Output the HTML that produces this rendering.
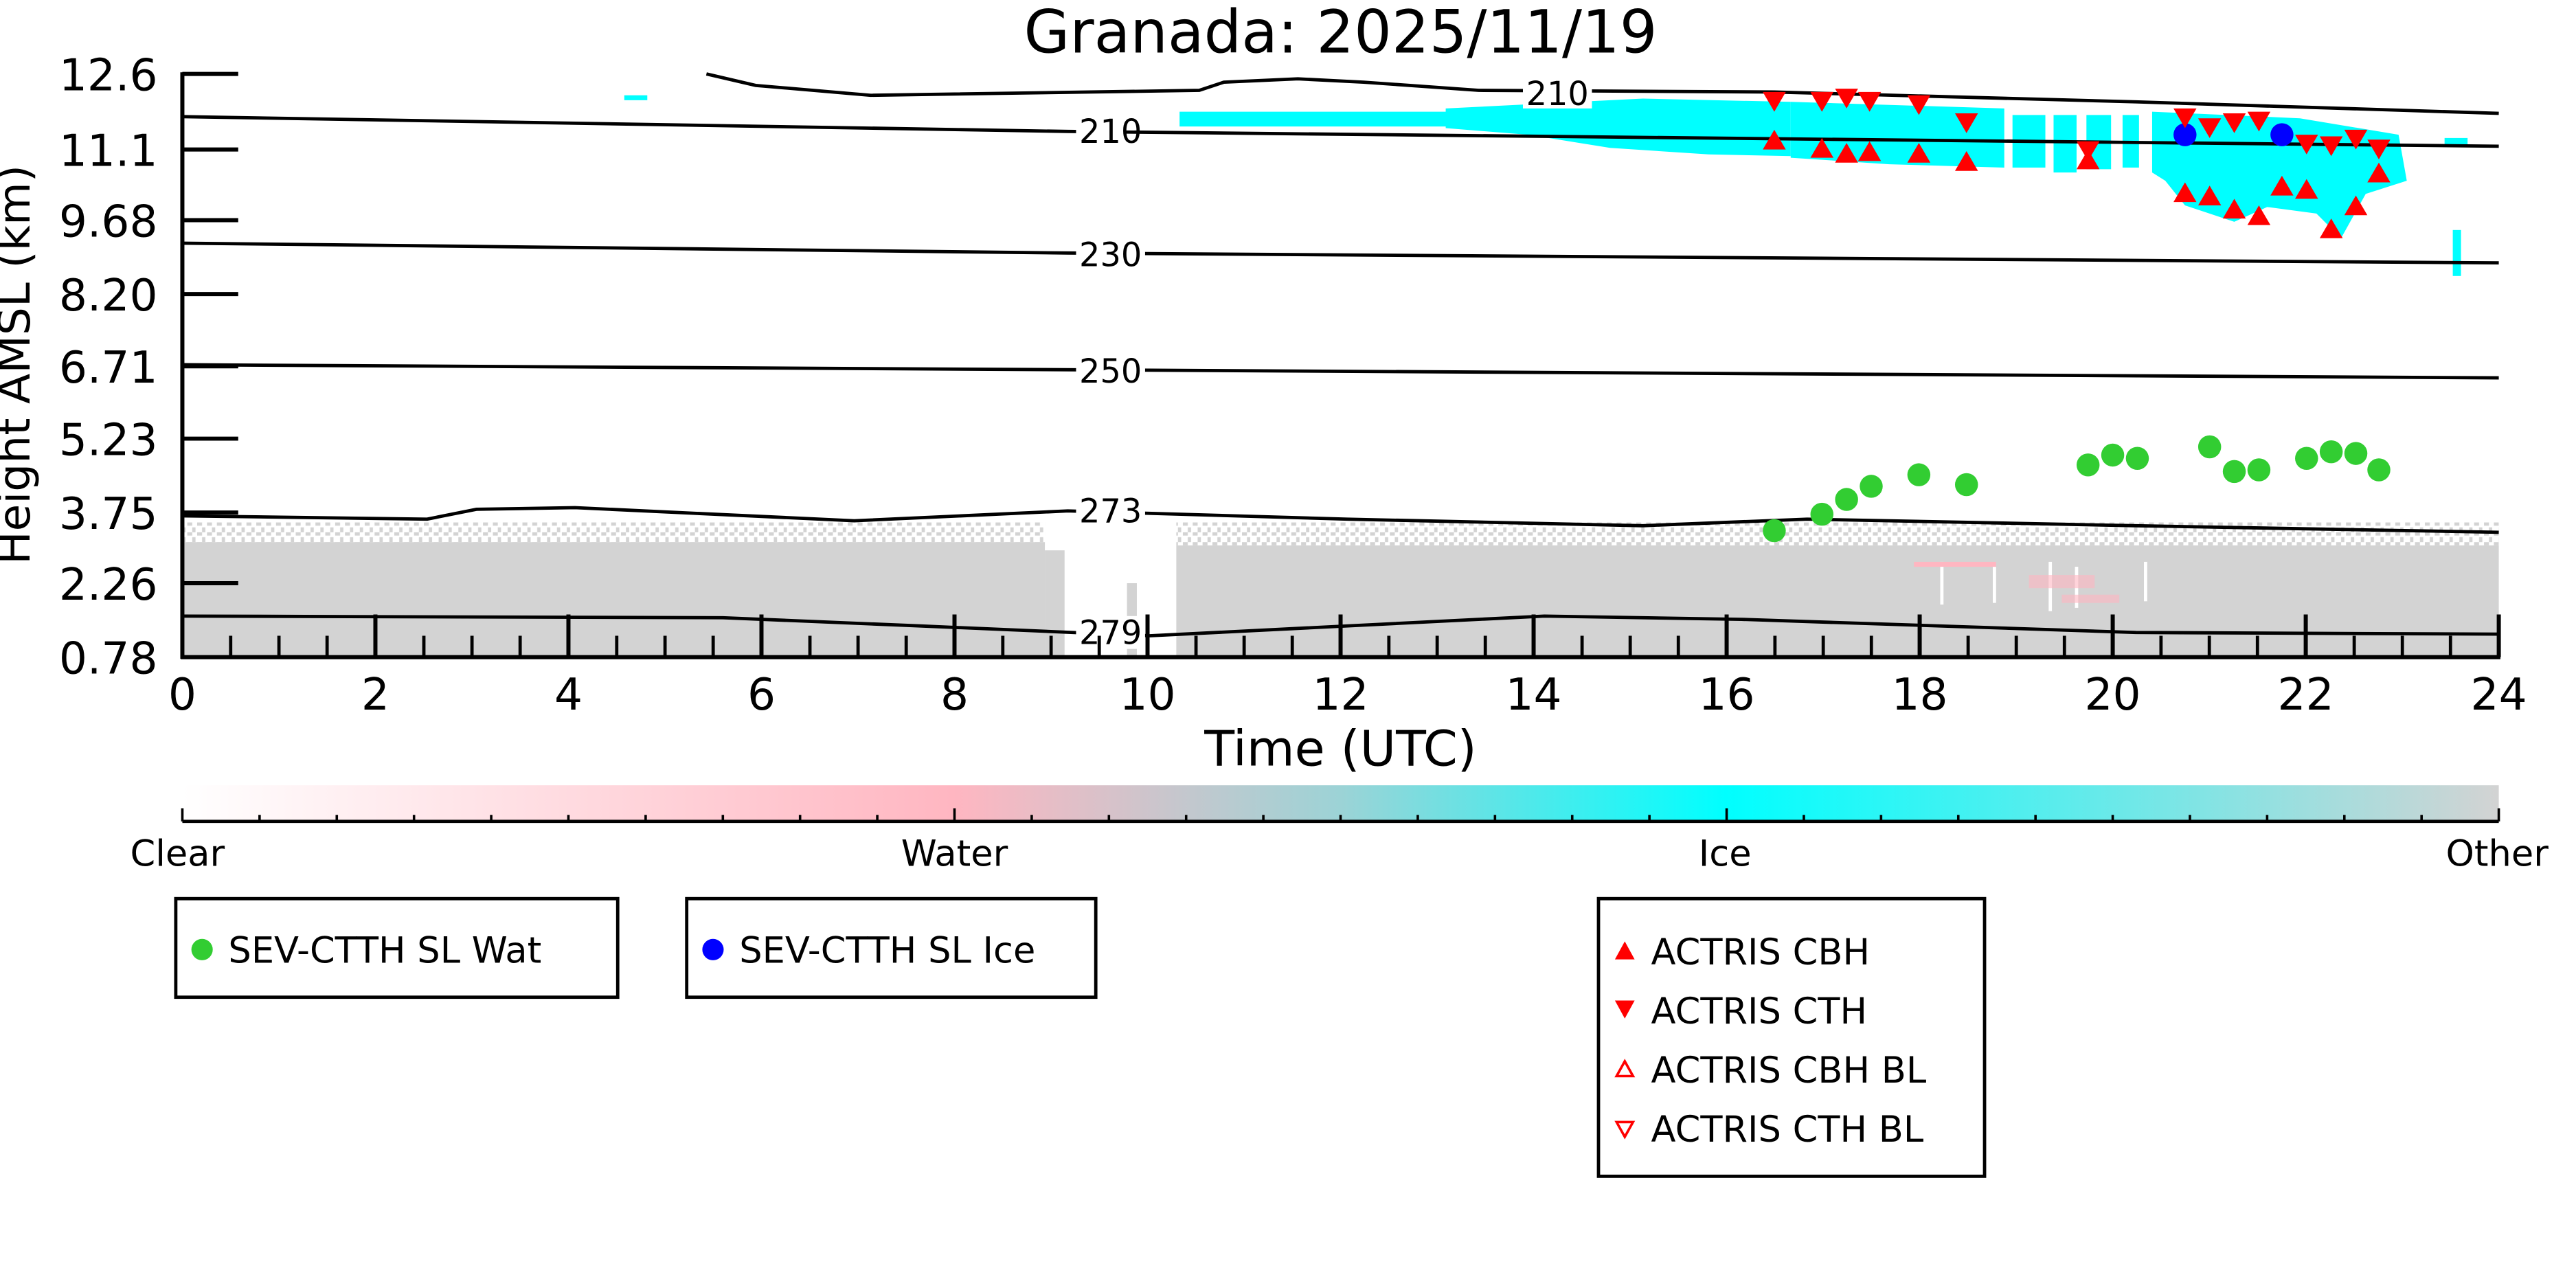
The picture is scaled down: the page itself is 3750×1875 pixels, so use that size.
<!DOCTYPE html>
<html><head><meta charset="utf-8"><style>html,body{margin:0;padding:0;background:#fff}svg{display:block}text{font-family:"DejaVu Sans","Liberation Sans",sans-serif}</style></head>
<body>
<svg width="3750" height="1875" viewBox="0 0 1568 784" preserveAspectRatio="none" xmlns="http://www.w3.org/2000/svg">
<defs>
<linearGradient id="cb" x1="0" x2="1" y1="0" y2="0">
<stop offset="0" stop-color="#ffffff"/><stop offset="0.333" stop-color="#ffb6c1"/><stop offset="0.5" stop-color="#9cd3d6"/><stop offset="0.666" stop-color="#00ffff"/><stop offset="1" stop-color="#d3d3d3"/>
</linearGradient>
<pattern id="spk" width="6" height="6" patternUnits="userSpaceOnUse"><rect width="6" height="6" fill="#fff"/><rect x="0" y="0" width="3" height="2" fill="#d3d3d3"/><rect x="3" y="3" width="2" height="3" fill="#d3d3d3"/></pattern>
</defs>
<text x="816" y="32" font-size="36" text-anchor="middle">Granada: 2025/11/19</text>
<!-- gray region -->
<rect x="111" y="318" width="525" height="14" fill="url(#spk)"/>
<rect x="716" y="318" width="805" height="14" fill="url(#spk)"/>
<rect x="111" y="330" width="525" height="70" fill="#d3d3d3"/>
<rect x="636" y="335" width="12" height="65" fill="#d3d3d3"/>
<rect x="686" y="355" width="6" height="45" fill="#d3d3d3"/>
<rect x="716" y="332" width="805" height="68" fill="#d3d3d3"/>
<rect x="1181" y="342" width="2" height="26" fill="#fff"/><rect x="1213" y="345" width="2" height="22" fill="#fff"/><rect x="1247" y="342" width="2" height="30" fill="#fff"/><rect x="1263" y="345" width="2" height="25" fill="#fff"/><rect x="1305" y="342" width="2" height="24" fill="#fff"/>
<rect x="1165" y="342" width="50" height="3" fill="#ffb6c1"/><rect x="1235" y="350" width="40" height="8" fill="#ffb6c1" opacity="0.6"/><rect x="1255" y="362" width="35" height="5" fill="#ffb6c1" opacity="0.6"/>
<!-- cyan ice -->
<g fill="#00ffff">
<rect x="380" y="58" width="14" height="3"/>
<rect x="718" y="68" width="180" height="9"/>
<polygon points="880,66 1000,60 1090,62 1090,95 1040,94 980,90 930,82 880,78"/>
<polygon points="1090,62 1220,66 1220,102 1150,100 1090,96"/>
<rect x="1225" y="70" width="20" height="32"/><rect x="1250" y="70" width="14" height="35"/><rect x="1270" y="70" width="15" height="33"/><rect x="1292" y="70" width="10" height="32"/>
<polygon points="1310,68 1400,72 1460,82 1465,110 1440,118 1425,145 1410,130 1380,126 1360,135 1330,125 1318,110 1310,105"/>
<rect x="1488" y="84" width="14" height="4"/>
<rect x="1493" y="140" width="5" height="28"/>
</g>
<!-- contours -->
<g fill="none" stroke="#000" stroke-width="2">
<polyline points="430,45 460,52 530,58 730,55 745,50 790,48 830,50 900,55 1080,56 1300,62 1521,69"/>
<polyline points="111,71 650,80 1521,89"/>
<polyline points="111,148 650,154 1521,160"/>
<polyline points="111,222 1521,230"/>
<polyline points="111,314 260,316 290,310 350,309 520,317 650,311 820,316 1000,320 1100,316 1300,320 1521,324"/>
<polyline points="111,375 440,376 560,381 700,387 940,375 1060,377 1300,385 1521,386"/>
</g>
<g font-size="20" text-anchor="middle">
<rect x="927" y="46" width="42" height="20" fill="#fff"/><text x="948" y="64">210</text>
<rect x="655" y="70" width="30" height="20" fill="#fff"/><text x="676" y="87">210</text>
<rect x="655" y="145" width="42" height="20" fill="#fff"/><text x="676" y="162">230</text>
<rect x="655" y="216" width="42" height="20" fill="#fff"/><text x="676" y="233">250</text>
<rect x="655" y="301" width="42" height="20" fill="#fff"/><text x="676" y="318">273</text>
<rect x="655" y="375" width="42" height="20" fill="#fff"/><text x="676" y="392">279</text>
</g>
<!-- markers -->
<g fill="#32cd32">
<ellipse cx="1080" cy="323" rx="7" ry="7"/><ellipse cx="1109" cy="313" rx="7" ry="7"/><ellipse cx="1124" cy="304" rx="7" ry="7"/><ellipse cx="1139" cy="296" rx="7" ry="7"/><ellipse cx="1168" cy="289" rx="7" ry="7"/><ellipse cx="1197" cy="295" rx="7" ry="7"/><ellipse cx="1271" cy="283" rx="7" ry="7"/><ellipse cx="1286" cy="277" rx="7" ry="7"/><ellipse cx="1301" cy="279" rx="7" ry="7"/><ellipse cx="1345" cy="272" rx="7" ry="7"/><ellipse cx="1360" cy="287" rx="7" ry="7"/><ellipse cx="1375" cy="286" rx="7" ry="7"/><ellipse cx="1404" cy="279" rx="7" ry="7"/><ellipse cx="1419" cy="275" rx="7" ry="7"/><ellipse cx="1434" cy="276" rx="7" ry="7"/><ellipse cx="1448" cy="286" rx="7" ry="7"/>
</g>
<g fill="#0000ff"><ellipse cx="1330" cy="82" rx="7" ry="7"/><ellipse cx="1389" cy="82" rx="7" ry="7"/></g>
<g fill="#ff0000">
<polygon points="1073,56 1087,56 1080,68"/><polygon points="1102,56 1116,56 1109,68"/><polygon points="1117,54 1131,54 1124,66"/><polygon points="1131,56 1145,56 1138,68"/><polygon points="1161,58 1175,58 1168,70"/><polygon points="1190,69 1204,69 1197,81"/><polygon points="1264,86 1278,86 1271,98"/><polygon points="1323,66 1337,66 1330,78"/><polygon points="1338,72 1352,72 1345,84"/><polygon points="1353,69 1367,69 1360,81"/><polygon points="1368,68 1382,68 1375,80"/><polygon points="1397,82 1411,82 1404,94"/><polygon points="1412,83 1426,83 1419,95"/><polygon points="1427,79 1441,79 1434,91"/><polygon points="1441,85 1455,85 1448,97"/>
<polygon points="1073,91 1087,91 1080,79"/><polygon points="1102,96 1116,96 1109,84"/><polygon points="1117,99 1131,99 1124,87"/><polygon points="1131,98 1145,98 1138,86"/><polygon points="1161,99 1175,99 1168,87"/><polygon points="1190,104 1204,104 1197,92"/><polygon points="1264,103 1278,103 1271,91"/><polygon points="1323,123 1337,123 1330,111"/><polygon points="1338,125 1352,125 1345,113"/><polygon points="1353,133 1367,133 1360,121"/><polygon points="1368,137 1382,137 1375,125"/><polygon points="1382,119 1396,119 1389,107"/><polygon points="1397,121 1411,121 1404,109"/><polygon points="1412,145 1426,145 1419,133"/><polygon points="1427,131 1441,131 1434,119"/><polygon points="1441,111 1455,111 1448,99"/>
</g>
<!-- axes -->
<g stroke="#000" stroke-width="2.5">
<line x1="111" y1="44" x2="111" y2="401"/><line x1="110" y1="400" x2="1522" y2="400"/>
<line x1="111" y1="45" x2="145" y2="45"/><line x1="111" y1="91" x2="145" y2="91"/><line x1="111" y1="134" x2="145" y2="134"/><line x1="111" y1="179" x2="145" y2="179"/><line x1="111" y1="223" x2="145" y2="223"/><line x1="111" y1="267" x2="145" y2="267"/><line x1="111" y1="312" x2="145" y2="312"/><line x1="111" y1="355" x2="145" y2="355"/>
</g>
<g stroke="#000" stroke-width="2">
<path d="M140.4 400v-13M169.8 400v-13M199.1 400v-13M258 400v-13M287.3 400v-13M316.6 400v-13M375.4 400v-13M404.8 400v-13M434.1 400v-13M493 400v-13M522.3 400v-13M551.6 400v-13M610.4 400v-13M639.8 400v-13M669.1 400v-13M728 400v-13M757.3 400v-13M786.6 400v-13M845.4 400v-13M874.8 400v-13M904.1 400v-13M963 400v-13M992.3 400v-13M1021.6 400v-13M1080.4 400v-13M1109.8 400v-13M1139.1 400v-13M1198 400v-13M1227.3 400v-13M1256.6 400v-13M1315.4 400v-13M1344.8 400v-13M1374.1 400v-13M1433 400v-13M1462.3 400v-13M1491.6 400v-13"/>
<path d="M228.5 400v-26M346 400v-26M463.5 400v-26M581 400v-26M698.5 400v-26M816 400v-26M933.5 400v-26M1051 400v-26M1168.5 400v-26M1286 400v-26M1403.5 400v-26M1521 400v-26" stroke-width="2.5"/>
</g>
<g font-size="27" text-anchor="end">
<text x="96" y="55">12.6</text><text x="96" y="101">11.1</text><text x="96" y="144">9.68</text><text x="96" y="189">8.20</text><text x="96" y="233">6.71</text><text x="96" y="277">5.23</text><text x="96" y="322">3.75</text><text x="96" y="365">2.26</text><text x="96" y="410">0.78</text>
</g>
<g font-size="27" text-anchor="middle">
<text x="111" y="432">0</text><text x="228.5" y="432">2</text><text x="346" y="432">4</text><text x="463.5" y="432">6</text><text x="581" y="432">8</text><text x="698.5" y="432">10</text><text x="816" y="432">12</text><text x="933.5" y="432">14</text><text x="1051" y="432">16</text><text x="1168.5" y="432">18</text><text x="1286" y="432">20</text><text x="1403.5" y="432">22</text><text x="1521" y="432">24</text>
</g>
<text x="816" y="466" font-size="30" text-anchor="middle">Time (UTC)</text>
<text transform="translate(18,222) rotate(-90)" font-size="27" text-anchor="middle">Height AMSL (km)</text>
<!-- colorbar -->
<rect x="111" y="478" width="1410" height="22" fill="url(#cb)"/>
<line x1="111" y1="500" x2="1521" y2="500" stroke="#000" stroke-width="2"/>
<g stroke="#000" stroke-width="1.5">
<path d="M111 500v-8M158 500v-4M205 500v-4M252 500v-4M299 500v-4M346 500v-4M393 500v-4M440 500v-4M487 500v-4M534 500v-4M581 500v-8M628 500v-4M675 500v-4M722 500v-4M769 500v-4M816 500v-4M863 500v-4M910 500v-4M957 500v-4M1004 500v-4M1051 500v-8M1098 500v-4M1145 500v-4M1192 500v-4M1239 500v-4M1286 500v-4M1333 500v-4M1380 500v-4M1427 500v-4M1474 500v-4M1521 500v-8"/>
</g>
<g font-size="22" text-anchor="middle">
<text x="108" y="527">Clear</text><text x="581" y="527">Water</text><text x="1050" y="527">Ice</text><text x="1520" y="527">Other</text>
</g>
<!-- legends -->
<g fill="none" stroke="#000" stroke-width="2">
<rect x="107" y="547" width="269" height="60"/><rect x="418" y="547" width="249" height="60"/><rect x="973" y="547" width="235" height="169"/>
</g>
<g font-size="22">
<circle cx="123" cy="578" r="6.5" fill="#32cd32"/><text x="139" y="586">SEV-CTTH SL Wat</text>
<circle cx="434" cy="578" r="6.5" fill="#0000ff"/><text x="450" y="586">SEV-CTTH SL Ice</text>
<polygon points="983,584 995,584 989,573" fill="#ff0000"/><text x="1005" y="587">ACTRIS CBH</text>
<polygon points="983,609 995,609 989,620" fill="#ff0000"/><text x="1005" y="623">ACTRIS CTH</text>
<polygon points="984,655 994,655 989,646" fill="none" stroke="#ff0000" stroke-width="1.5"/><text x="1005" y="659">ACTRIS CBH BL</text>
<polygon points="984,683 994,683 989,692" fill="none" stroke="#ff0000" stroke-width="1.5"/><text x="1005" y="695">ACTRIS CTH BL</text>
</g>
</svg>
</body></html>
